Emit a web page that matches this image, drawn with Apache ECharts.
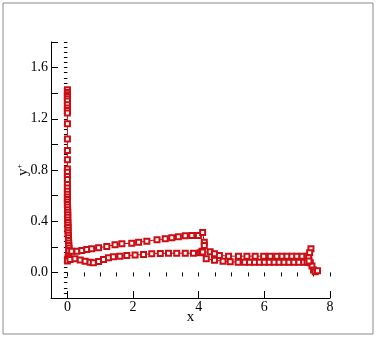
<!DOCTYPE html>
<html>
<head>
<meta charset="utf-8">
<script src="https://cdn.jsdelivr.net/npm/echarts@6/dist/echarts.min.js"></script>
<style>
  html, body { margin: 0; padding: 0; background: #fff; }
  #chart { width: 377px; height: 338px; }
</style>
</head>
<body>
<div id="chart"></div>
<script>
// surface branches, [x, y+] pairs
const leadingEdge = [
  [0, 1.426], [0, 1.405], [0, 1.387], [0, 1.374], [0, 1.356], [0, 1.34], [0, 1.31],
  [0, 1.284], [0, 1.265], [0, 1.245], [0, 1.161], [0, 1.042], [0, 0.953], [0, 0.88],
  [0, 0.808], [0, 0.782], [0, 0.75], [0, 0.725], [0, 0.686], [0, 0.66], [0, 0.634],
  [0, 0.61], [0, 0.59], [0, 0.57], [0, 0.55], [0, 0.53], [0.005, 0.51], [0.005, 0.49],
  [0.01, 0.47], [0.01, 0.45], [0.01, 0.43], [0.01, 0.41], [0.015, 0.39], [0.015, 0.37],
  [0.02, 0.35], [0.02, 0.33], [0.02, 0.31], [0.03, 0.29], [0.03, 0.27], [0.035, 0.25],
  [0.04, 0.23], [0.04, 0.21], [0.05, 0.19], [0.05, 0.17], [0.04, 0.15], [0.03, 0.13],
  [0.02, 0.115], [0.01, 0.1], [0, 0.09]
];
const lowerFore = [
  [0.08, 0.101], [0.23, 0.107], [0.39, 0.096], [0.54, 0.088], [0.69, 0.08], [0.79, 0.075],
  [0.95, 0.086], [1.1, 0.101], [1.25, 0.114], [1.4, 0.122], [1.6, 0.127], [1.81, 0.132],
  [2.06, 0.135], [2.32, 0.14], [2.57, 0.146], [2.83, 0.148], [3.08, 0.15], [3.33, 0.15],
  [3.59, 0.15], [3.84, 0.15], [4.05, 0.153], [4.1, 0.166]
];
const upperAft = [
  [4.35, 0.161], [4.48, 0.146], [4.63, 0.133], [4.91, 0.127], [5.21, 0.127], [5.47, 0.127],
  [5.72, 0.127], [5.98, 0.127], [6.18, 0.127], [6.38, 0.127], [6.54, 0.127], [6.69, 0.127],
  [6.84, 0.127], [6.99, 0.127], [7.15, 0.127], [7.3, 0.127]
];
const trailingEdge = [
  [7.42, 0.185], [7.38, 0.153], [7.35, 0.114], [7.4, 0.075], [7.45, 0.05],
  [7.5, 0.018], [7.55, 0.005], [7.62, 0.012]
];
const upperFore = [
  [0.05, 0.17], [0.13, 0.166], [0.29, 0.166], [0.44, 0.171], [0.59, 0.179], [0.74, 0.185],
  [0.95, 0.192], [1.2, 0.203], [1.45, 0.216], [1.66, 0.224], [1.96, 0.228], [2.17, 0.236],
  [2.42, 0.244], [2.73, 0.255], [2.98, 0.262], [3.18, 0.27], [3.38, 0.278], [3.59, 0.286],
  [3.79, 0.288], [3.99, 0.288], [4.12, 0.312], [4.17, 0.236], [4.17, 0.21], [4.12, 0.16]
];
const lowerAft = [
  [4.23, 0.107], [4.48, 0.094], [4.74, 0.088], [4.96, 0.083], [5.2, 0.08], [5.4, 0.08],
  [5.55, 0.08], [5.7, 0.08], [5.85, 0.08], [6.0, 0.08], [6.15, 0.08], [6.3, 0.08],
  [6.45, 0.08], [6.6, 0.08], [6.75, 0.08], [6.9, 0.08], [7.05, 0.08], [7.2, 0.08],
  [7.3, 0.08], [7.36, 0.09]
];

const xLabels = [0, 2, 4, 6, 8];
const yLabels = [0, 0.4, 0.8, 1.2, 1.6];
const yMajorTicks = [-0.2, 0, 0.2, 0.4, 0.6, 0.8, 1.0, 1.2, 1.4, 1.6, 1.8];

const red = '#cc0d14';
const font = '"Liberation Serif", "Times New Roman", serif';

const chart = echarts.init(document.getElementById('chart'));

function lineSeries(points) {
  return {
    type: 'line',
    data: points,
    symbol: 'emptyRect',
    symbolSize: 5,
    showAllSymbol: true,
    lineStyle: { color: red, width: 1 },
    itemStyle: { color: red, borderColor: red, borderWidth: 1.2 },
    animation: false
  };
}

const baseAxis = {
  type: 'value',
  splitLine: { show: false },
  axisLine: { show: true, onZero: false, lineStyle: { color: '#000', width: 1 } }
};

chart.setOption({
  animation: false,
  graphic: [{
    type: 'rect',
    shape: { x: 3, y: 3, width: 370, height: 331 },
    style: { fill: 'none', stroke: '#8a8a8a', lineWidth: 1 }
  }],
  grid: { left: 51, right: 47, top: 42, bottom: 40, outerBoundsMode: 'none' },
  xAxis: [
    Object.assign({}, baseAxis, {
      min: -0.5, max: 8,
      name: 'x', nameLocation: 'middle', nameGap: 12, nameMoveOverlap: false,
      nameTextStyle: { fontFamily: font, fontSize: 15, color: '#000' },
      axisTick: { inside: true, length: 7, customValues: xLabels, lineStyle: { color: '#000' } },
      axisLabel: { customValues: xLabels, margin: 2, fontFamily: font, fontSize: 14, color: '#000' }
    }),
    Object.assign({}, baseAxis, {
      min: -0.5, max: 8, interval: 0.5,
      axisLine: { show: false },
      axisTick: { inside: true, length: 4, lineStyle: { color: '#000' } },
      axisLabel: { show: false }
    })
  ],
  yAxis: [
    Object.assign({}, baseAxis, {
      min: -0.2, max: 1.8,
      name: 'y{sup|+}', nameLocation: 'middle', nameGap: 20, nameRotate: 90, nameMoveOverlap: false,
      nameTextStyle: {
        fontFamily: font, fontSize: 15, color: '#000',
        rich: { sup: { fontFamily: font, fontSize: 8, verticalAlign: 'top', padding: [0, 0, 6, 0] } }
      },
      axisTick: { inside: true, length: 7, customValues: yMajorTicks, lineStyle: { color: '#000' } },
      axisLabel: {
        customValues: yLabels, margin: 3, fontFamily: font, fontSize: 14, color: '#000',
        formatter: v => v.toFixed(1)
      }
    }),
    Object.assign({}, baseAxis, {
      min: -0.2, max: 1.8, interval: 0.04,
      axisLine: { show: false },
      axisTick: { inside: true, length: 3.5, lineStyle: { color: '#000' } },
      axisLabel: { show: false }
    })
  ],
  series: [
    lineSeries(leadingEdge.concat(lowerFore, upperAft, trailingEdge)),
    lineSeries(upperFore.concat(lowerAft))
  ]
});
</script>
</body>
</html>
